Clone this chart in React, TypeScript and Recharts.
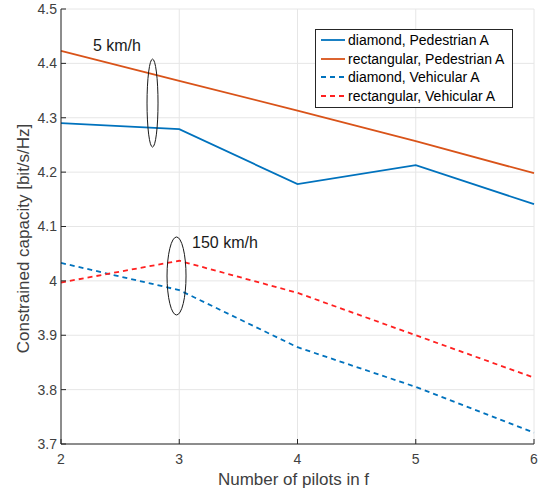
import React from 'react';
import { LineChart, Line, XAxis, YAxis, CartesianGrid, Legend, ReferenceDot } from 'recharts';

// values
const pilots = [2, 3, 4, 5, 6];
const diamondPedestrian = [4.29, 4.279, 4.178, 4.213, 4.141];
const rectangularPedestrian = [4.423, 4.368, 4.313, 4.257, 4.198];
const diamondVehicular = [4.033, 3.983, 3.878, 3.805, 3.721];
const rectangularVehicular = [3.997, 4.037, 3.978, 3.9, 3.822];

const xTicks = [2, 3, 4, 5, 6];
const yTicks = [3.7, 3.8, 3.9, 4, 4.1, 4.2, 4.3, 4.4, 4.5];

const seriesNames = [
  'diamond, Pedestrian A',
  'rectangular, Pedestrian A',
  'diamond, Vehicular A',
  'rectangular, Vehicular A',
];

// speed annotations (data coordinates)
const speedLabels = [
  { x: 2.27, y: 4.423, text: '5 km/h' },
  { x: 3.108, y: 4.06, text: '150 km/h' },
];
const speedGroups = [
  { x: 2.774, y: 4.327 },
  { x: 2.977, y: 4.009 },
];

const data = pilots.map((p, i) => ({
  pilots: p,
  dp: diamondPedestrian[i],
  rp: rectangularPedestrian[i],
  dv: diamondVehicular[i],
  rv: rectangularVehicular[i],
}));

const FONT = '"Liberation Sans", Arial, Helvetica, sans-serif';
const AXIS = '#262626';
const TEXT = '#404040';
const colors = ['#0072BD', '#D95319', '#0072BD', '#FF2020'];
const dashes = [undefined, undefined, '5 4', '5 4'];
const ellipseSizes = [
  { rx: 5.5, ry: 44 },
  { rx: 9.5, ry: 39 },
];

const fmt = (v: number) => String(Number(v.toFixed(1)));

function LeftTick(props: any) {
  const { x, y, payload } = props;
  return (
    <g>
      <line x1={x + 4} x2={x + 9} y1={y} y2={y} stroke={AXIS} />
      <text x={x} y={y} dy="0.35em" textAnchor="end" fontSize={14} fill={TEXT} fontFamily={FONT}>
        {fmt(payload.value)}
      </text>
    </g>
  );
}

function BottomTick(props: any) {
  const { x, y, payload } = props;
  return (
    <g>
      <line x1={x} x2={x} y1={y - 9} y2={y - 14} stroke={AXIS} />
      <text x={x} y={y} dy="0.75em" textAnchor="middle" fontSize={14} fill={TEXT} fontFamily={FONT}>
        {payload.value}
      </text>
    </g>
  );
}

function TopTick(props: any) {
  const { x, y } = props;
  return <line x1={x} x2={x} y1={y} y2={y + 5} stroke={AXIS} />;
}

function RightTick(props: any) {
  const { x, y } = props;
  return <line x1={x} x2={x - 5} y1={y} y2={y} stroke={AXIS} />;
}

function LegendBox() {
  return (
    <div
      style={{
        border: `1px solid ${AXIS}`,
        background: '#fff',
        padding: '1px 0 2px',
        fontFamily: FONT,
        fontSize: 14,
        color: '#000',
        width: 196,
      }}
    >
      {seriesNames.map((name, i) => (
        <div key={name} style={{ display: 'flex', alignItems: 'center', height: 18.6 }}>
          <svg width={30} height={10} style={{ flex: 'none' }}>
            <line x1={5} x2={29} y1={5} y2={5} stroke={colors[i]} strokeWidth={1.8} strokeDasharray={dashes[i]} />
          </svg>
          <span style={{ marginLeft: 2, whiteSpace: 'nowrap' }}>{name}</span>
        </div>
      ))}
    </div>
  );
}

export default function App() {
  const keys = ['dp', 'rp', 'dv', 'rv'];
  return (
    <div style={{ position: 'absolute', left: 0, top: 0, background: '#fff' }}>
      <LineChart width={548} height={491} data={data} margin={{ top: 9, right: 14, bottom: 0, left: 0 }}>
        <CartesianGrid stroke="#e6e6e6" strokeDasharray="" />
        <XAxis
          dataKey="pilots"
          type="number"
          domain={[2, 6]}
          ticks={xTicks}
          height={47}
          tickSize={0}
          tickMargin={9}
          tickLine={false}
          stroke={AXIS}
          tick={<BottomTick />}
          label={{
            value: 'Number of pilots in f',
            position: 'insideBottom',
            offset: 6,
            dx: -4,
            fontSize: 17,
            fill: TEXT,
            fontFamily: FONT,
          }}
        />
        <XAxis
          xAxisId="top"
          orientation="top"
          type="number"
          domain={[2, 6]}
          ticks={xTicks}
          height={0}
          tickSize={0}
          tickLine={false}
          stroke={AXIS}
          tick={<TopTick />}
        />
        <YAxis
          type="number"
          domain={[3.7, 4.5]}
          ticks={yTicks}
          width={61}
          tickSize={0}
          tickMargin={4}
          tickLine={false}
          stroke={AXIS}
          interval={0}
          tick={<LeftTick />}
          label={{
            value: 'Constrained capacity [bit/s/Hz]',
            angle: -90,
            position: 'center',
            dx: -7.5,
            dy: 12,
            fontSize: 17,
            fill: TEXT,
            fontFamily: FONT,
          }}
        />
        <YAxis
          yAxisId="r"
          orientation="right"
          type="number"
          domain={[3.7, 4.5]}
          ticks={yTicks}
          width={0}
          tickSize={0}
          tickLine={false}
          stroke={AXIS}
          interval={0}
          tick={<RightTick />}
        />
        {keys.map((k, i) => (
          <Line
            key={k}
            dataKey={k}
            name={seriesNames[i]}
            type="linear"
            stroke={colors[i]}
            strokeWidth={1.8}
            strokeDasharray={dashes[i]}
            dot={false}
            activeDot={false}
            isAnimationActive={false}
          />
        ))}
        {speedGroups.map((g, i) => (
          <ReferenceDot
            key={`e${i}`}
            x={g.x}
            y={g.y}
            ifOverflow="visible"
            shape={(p: any) => (
              <ellipse
                cx={p.cx}
                cy={p.cy}
                rx={ellipseSizes[i].rx}
                ry={ellipseSizes[i].ry}
                fill="none"
                stroke="#1a1a1a"
                strokeWidth={1}
              />
            )}
          />
        ))}
        {speedLabels.map((s, i) => (
          <ReferenceDot
            key={`t${i}`}
            x={s.x}
            y={s.y}
            ifOverflow="visible"
            shape={(p: any) => (
              <text x={p.cx} y={p.cy} fontSize={16} fill="#1a1a1a" fontFamily={FONT}>
                {s.text}
              </text>
            )}
          />
        ))}
        <Legend
          layout="vertical"
          align="center"
          verticalAlign="middle"
          wrapperStyle={{ left: 315, top: 29, width: 198 }}
          content={() => <LegendBox />}
        />
      </LineChart>
    </div>
  );
}
